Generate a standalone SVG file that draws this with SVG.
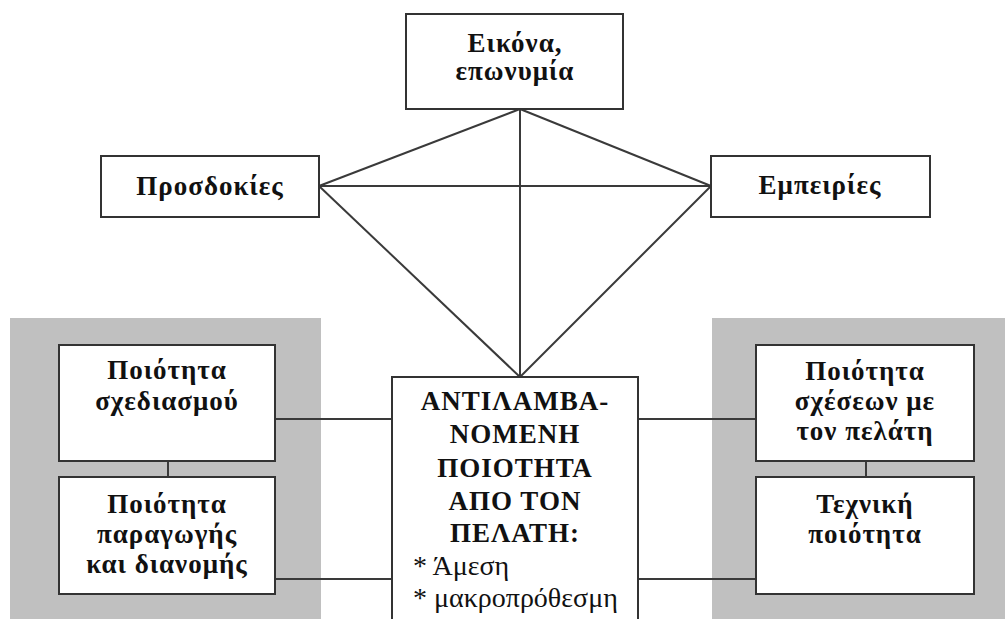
<svg xmlns="http://www.w3.org/2000/svg" width="1005" height="619" viewBox="0 0 1005 619">
  <style>
    .box { fill: #ffffff; stroke: #333333; stroke-width: 2; }
    .panel { fill: #c0c0c0; }
    .link { stroke: #3a3a3a; stroke-width: 2; fill: none; }
    .t { font-family: "Liberation Serif", "Times New Roman", serif; font-size: 27px; font-weight: bold; fill: #111111; text-anchor: middle; letter-spacing: 1px; }
    .n { font-family: "Liberation Serif", "Times New Roman", serif; font-size: 28px; fill: #111111; }
  </style>

  <!-- shaded side panels -->
  <rect class="panel" x="10" y="318" width="311" height="301"/>
  <rect class="panel" x="712" y="318" width="293" height="301"/>

  <!-- connectors -->
  <g id="connectors">
    <line class="link" x1="520" y1="109" x2="319" y2="186"/>
    <line class="link" x1="520" y1="109" x2="711" y2="186"/>
    <line class="link" x1="520" y1="109" x2="520" y2="377"/>
    <line class="link" x1="319" y1="186" x2="711" y2="186"/>
    <line class="link" x1="319" y1="186" x2="520" y2="377"/>
    <line class="link" x1="711" y1="186" x2="520" y2="377"/>
    <line class="link" x1="275" y1="419" x2="392" y2="419"/>
    <line class="link" x1="275" y1="579" x2="392" y2="579"/>
    <line class="link" x1="638" y1="419" x2="756" y2="419"/>
    <line class="link" x1="638" y1="579" x2="756" y2="579"/>
    <line class="link" x1="168" y1="461" x2="168" y2="477"/>
    <line class="link" x1="866" y1="461" x2="866" y2="477"/>
  </g>

  <g id="image">
    <rect class="box" x="406" y="14" width="217" height="95"/>
    <text class="t" x="515" y="52">Εικόνα,</text>
    <text class="t" x="515" y="80">επωνυμία</text>
  </g>

  <g id="expectations">
    <rect class="box" x="101" y="156" width="218" height="61"/>
    <text class="t" x="210" y="195">Προσδοκίες</text>
  </g>

  <g id="experiences">
    <rect class="box" x="711" y="156" width="219" height="61"/>
    <text class="t" x="820" y="194">Εμπειρίες</text>
  </g>

  <g id="design-quality">
    <rect class="box" x="59" y="345" width="216" height="116"/>
    <text class="t" x="167" y="379">Ποιότητα</text>
    <text class="t" x="167" y="410">σχεδιασμού</text>
  </g>

  <g id="production-quality">
    <rect class="box" x="59" y="477" width="216" height="117"/>
    <text class="t" x="167" y="513">Ποιότητα</text>
    <text class="t" x="167" y="543">παραγωγής</text>
    <text class="t" x="167" y="573">και διανομής</text>
  </g>

  <g id="perceived-quality">
    <rect class="box" x="392" y="377" width="246" height="260"/>
    <text class="t" x="515" y="410">ΑΝΤΙΛΑΜΒΑ-</text>
    <text class="t" x="515" y="443">ΝΟΜΕΝΗ</text>
    <text class="t" x="515" y="477">ΠΟΙΟΤΗΤΑ</text>
    <text class="t" x="515" y="510">ΑΠΟ ΤΟΝ</text>
    <text class="t" x="515" y="542">ΠΕΛΑΤΗ:</text>
    <text class="n" x="413" y="575">* Άμεση</text>
    <text class="n" x="413" y="607">* μακροπρόθεσμη</text>
  </g>

  <g id="relationship-quality">
    <rect class="box" x="756" y="345" width="218" height="116"/>
    <text class="t" x="865" y="380">Ποιότητα</text>
    <text class="t" x="865" y="410">σχέσεων με</text>
    <text class="t" x="865" y="440">τον πελάτη</text>
  </g>

  <g id="technical-quality">
    <rect class="box" x="756" y="477" width="218" height="117"/>
    <text class="t" x="865" y="513">Τεχνική</text>
    <text class="t" x="865" y="543">ποιότητα</text>
  </g>
</svg>
